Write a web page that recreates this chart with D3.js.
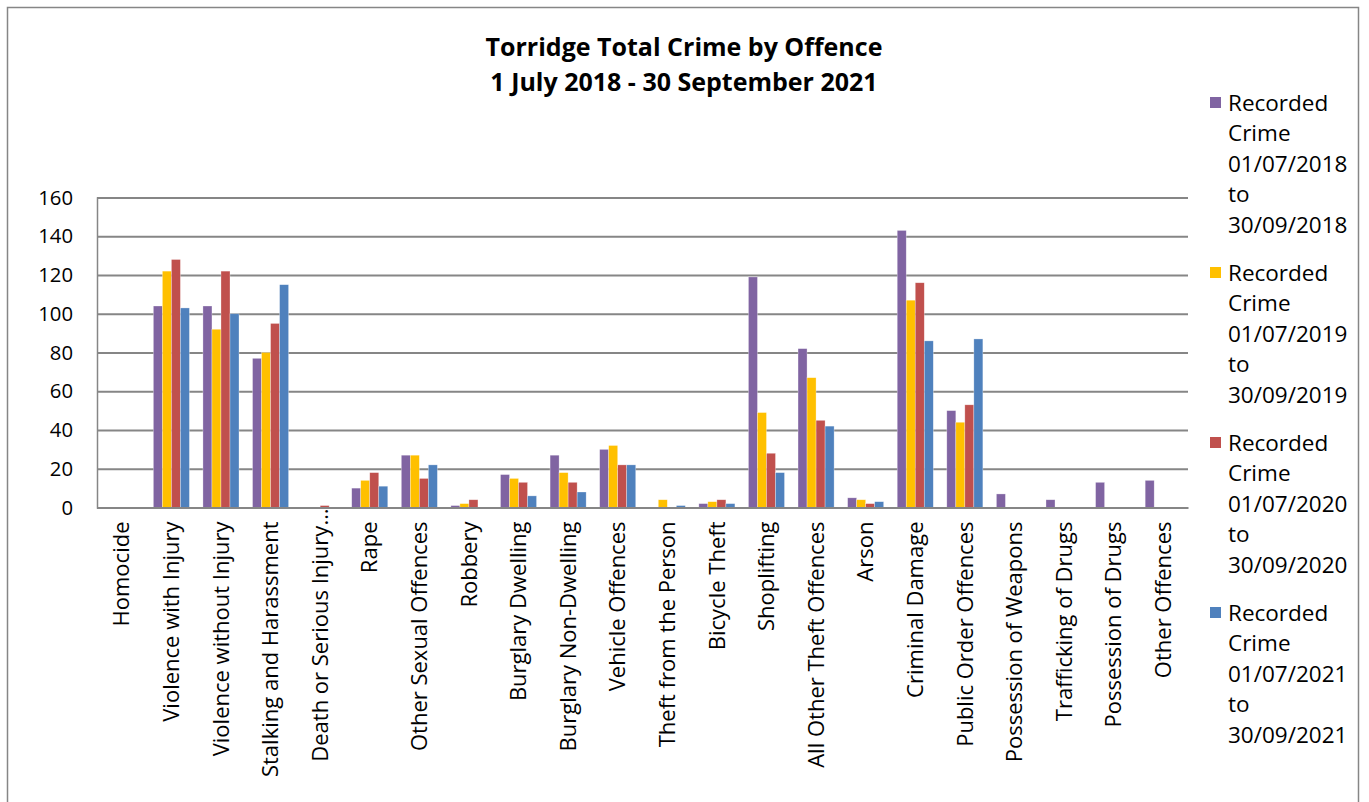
<!DOCTYPE html>
<html><head><meta charset="utf-8">
<script src="https://cdn.jsdelivr.net/npm/d3@7"></script>
<style>body{margin:0;background:#fff}svg{display:block}text{font-family:"Open Sans",Lato,sans-serif;fill:#000}</style>
</head><body>
<svg id="c" width="1369" height="802"></svg>
<script>
const categories = ["Homocide","Violence with Injury","Violence without Injury","Stalking and Harassment","Death or Serious Injury…","Rape","Other Sexual Offences","Robbery","Burglary Dwelling","Burglary Non-Dwelling","Vehicle Offences","Theft from the Person","Bicycle Theft","Shoplifting","All Other Theft Offences","Arson","Criminal Damage","Public Order Offences","Possession of Weapons","Trafficking of Drugs","Possession of Drugs","Other Offences"];
const seriesNames = ["Recorded Crime 01/07/2018 to 30/09/2018","Recorded Crime 01/07/2019 to 30/09/2019","Recorded Crime 01/07/2020 to 30/09/2020","Recorded Crime 01/07/2021 to 30/09/2021"];
const s2018 = [0,104,104,77,0,10,27,1,17,27,30,0,2,119,82,5,143,50,7,4,13,14];
const s2019 = [0,122,92,80,0,14,27,2,15,18,32,4,3,49,67,4,107,44,0,0,0,0];
const s2020 = [0,128,122,95,1,18,15,4,13,13,22,0,4,28,45,2,116,53,0,0,0,0];
const s2021 = [0,103,100,115,0,11,22,0,6,8,22,1,2,18,42,3,86,87,0,0,0,0];
const yTicks = [0,20,40,60,80,100,120,140,160];
const colors = ["#8064A2","#FFC000","#C0504D","#4F81BD"];
const titleLines = ["Torridge Total Crime by Offence","1 July 2018 - 30 September 2021"];

const seriesData = [s2018,s2019,s2020,s2021];
const svg = d3.select("#c");
svg.append("rect").attr("x",7.5).attr("y",7.5).attr("width",1351).attr("height",800)
  .attr("fill","#fff").attr("stroke","#868686").attr("stroke-width",1.5);

const L=97,R=1188,T=197.5,B=507.5;
const x = d3.scaleBand().domain(categories).range([L,R]).paddingInner(0).paddingOuter(0);
const barW = x.bandwidth()/5.5;
const xs = d3.scaleBand().domain(d3.range(4)).range([(x.bandwidth()-4*barW)/2,(x.bandwidth()+4*barW)/2]);
const y = d3.scaleLinear().domain([0,160]).range([B,T]);

// gridlines + y axis
const yAxis = d3.axisLeft(y).tickValues(yTicks).tickSize(-(R-L)).tickPadding(24);
const ga = svg.append("g").attr("transform",`translate(${L},0)`).call(yAxis);
ga.select(".domain").attr("stroke","#868686").attr("stroke-width",1.5);
ga.selectAll(".tick line").attr("stroke","#868686").attr("stroke-width",2);
ga.selectAll(".tick text").style("font-size","20.3px").attr("fill","#000");

// bars
seriesData.forEach((arr,si)=>{
  svg.append("g").selectAll("rect").data(arr).join("rect")
    .attr("x",(d,i)=>x(categories[i])+xs(si))
    .attr("width",xs.bandwidth())
    .attr("y",d=>y(d)).attr("height",d=>B-y(d))
    .attr("fill",colors[si]).attr("stroke","rgba(255,255,255,0.5)").attr("stroke-width",0.6);
});

// x axis
const xAxis = d3.axisBottom(x).tickSize(0).tickPadding(0);
const gx = svg.append("g").attr("transform",`translate(0,${B})`).call(xAxis);
gx.select(".domain").attr("stroke","#868686").attr("stroke-width",2);
gx.selectAll(".tick text").style("font-size","22px")
  .attr("transform","rotate(-90)").attr("text-anchor","end")
  .attr("x",d=>d.endsWith("…")?-1:-14).attr("y",0).attr("dy","0.35em");

// title
svg.append("g").selectAll("text").data(titleLines).join("text")
  .attr("x",684).attr("y",(d,i)=>56+i*35).attr("text-anchor","middle")
  .style("font-size","25px").style("font-weight","bold").text(d=>d);

// legend
const lg = svg.append("g");
seriesNames.forEach((n,si)=>{
  const y0 = 103 + si*170;
  lg.append("rect").attr("x",1210).attr("y",y0-6).attr("width",11).attr("height",11).attr("fill",colors[si]);
  const words = ["Recorded","Crime",n.split(" ")[2],"to",n.split(" ")[4]];
  words.forEach((w,k)=>{
    lg.append("text").attr("x",1228).attr("y",y0+k*30.5).attr("dy","0.35em").style("font-size","22.5px").text(w);
  });
});
</script>
</body></html>
